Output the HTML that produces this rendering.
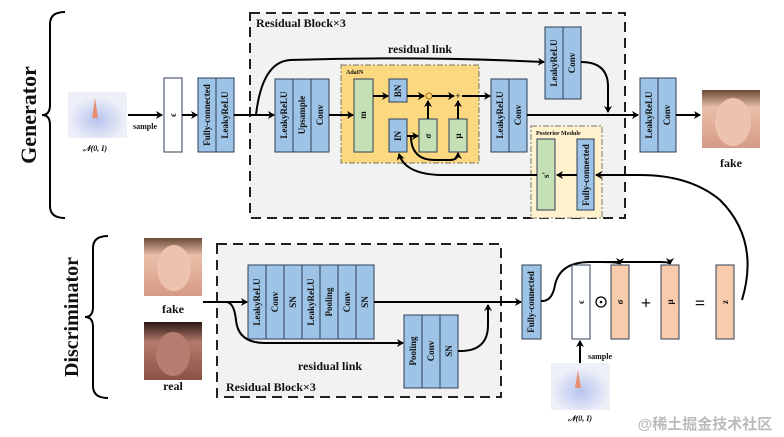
<!DOCTYPE html>
<html><head><meta charset="utf-8"><style>
html,body{margin:0;padding:0;background:#fff;width:784px;height:437px;overflow:hidden}
svg{display:block}
text{font-family:"Liberation Serif",serif;font-weight:bold;fill:#111}
.b{fill:#9dc3e6;stroke:#2f3f55;stroke-width:1}
.g{fill:#c5e0b4;stroke:#2f3f55;stroke-width:1}
.o{fill:#f8cbad;stroke:#2f3f55;stroke-width:1}
.w{fill:#fff;stroke:#2f3f55;stroke-width:1}
.l{fill:none;stroke:#000;stroke-width:2}
.c{font-size:9px}
</style></head><body>
<svg width="784" height="437" viewBox="0 0 784 437" xmlns="http://www.w3.org/2000/svg">
<defs>
<marker id="a" markerWidth="8" markerHeight="8" refX="6" refY="4" orient="auto" markerUnits="userSpaceOnUse"><path d="M0,0 L7,4 L0,8 L2,4Z" fill="#000"/></marker>
<radialGradient id="gs" cx="0.5" cy="0.6" r="0.5"><stop offset="0" stop-color="#b8c4ee"/><stop offset="1" stop-color="#eef0f8"/></radialGradient>
<linearGradient id="face" x1="0" y1="0" x2="0" y2="1"><stop offset="0" stop-color="#6b4a38"/><stop offset="0.3" stop-color="#e9bfa8"/><stop offset="1" stop-color="#d59a86"/></linearGradient>
<linearGradient id="face2" x1="0" y1="0" x2="0" y2="1"><stop offset="0" stop-color="#2a1812"/><stop offset="0.35" stop-color="#b57a6c"/><stop offset="1" stop-color="#8a5245"/></linearGradient>
</defs>

<!-- Generator bracket -->
<path d="M65,12 Q50,12 50,24 L50,105 Q50,115 42,115 Q50,115 50,125 L50,206 Q50,218 65,218" class="l"/>
<text transform="translate(36,115) rotate(-90)" text-anchor="middle" font-size="22">Generator</text>

<!-- gaussian 1 -->
<rect x="68" y="92" width="59" height="46" fill="url(#gs)"/>
<path d="M92,118 L95,98 L98,118Z" fill="#e89070"/>
<text x="95" y="151" font-size="8" font-weight="normal" text-anchor="middle" font-style="italic">𝒩(0, I)</text>
<line x1="128" y1="115" x2="162" y2="115" class="l" marker-end="url(#a)"/>
<text x="145" y="129" font-size="8" text-anchor="middle">sample</text>
<rect x="164" y="78" width="18" height="74" class="w"/>
<text transform="translate(176,115) rotate(-90)" class="c" text-anchor="middle">ϵ</text>
<line x1="182" y1="115" x2="197" y2="115" class="l" marker-end="url(#a)"/>
<rect x="198" y="78" width="18" height="74" class="b"/><rect x="216" y="78" width="18" height="74" class="b"/>
<text transform="translate(210,115) rotate(-90)" class="c" text-anchor="middle">Fully-connected</text>
<text transform="translate(228,115) rotate(-90)" class="c" text-anchor="middle">LeakyReLU</text>

<!-- G residual box -->
<rect x="250" y="13" width="375" height="205" fill="#f2f2f2" stroke="#222" stroke-width="2" stroke-dasharray="10,6"/>
<text x="256" y="27" font-size="12">Residual Block×3</text>
<line x1="234" y1="115" x2="274" y2="115" class="l" marker-end="url(#a)"/>
<path d="M256,115 Q262,62 290,60 Q420,56 544,62" class="l" marker-end="url(#a)"/>
<text x="420" y="53" font-size="12" text-anchor="middle">residual link</text>

<rect x="275" y="79" width="18" height="73" class="b"/><rect x="293" y="79" width="18" height="73" class="b"/><rect x="311" y="79" width="18" height="73" class="b"/>
<text transform="translate(287,115) rotate(-90)" class="c" text-anchor="middle">LeakyReLU</text>
<text transform="translate(305,115) rotate(-90)" class="c" text-anchor="middle">Upsample</text>
<text transform="translate(323,115) rotate(-90)" class="c" text-anchor="middle">Conv</text>

<!-- AdaIN -->
<rect x="341" y="65" width="138" height="98" fill="#fcd981" stroke="#776" stroke-width="1" stroke-dasharray="6,2,2,2"/>
<text x="346" y="74" font-size="6">AdaIN</text>
<line x1="329" y1="115" x2="353" y2="115" class="l" marker-end="url(#a)"/>
<rect x="354" y="79" width="19" height="73" class="g"/>
<text transform="translate(366,115) rotate(-90)" class="c" text-anchor="middle">m</text>
<rect x="389" y="79" width="18" height="23" class="b"/>
<text transform="translate(401,91) rotate(-90)" class="c" text-anchor="middle">BN</text>
<rect x="389" y="119" width="18" height="33" class="b"/>
<text transform="translate(401,136) rotate(-90)" class="c" text-anchor="middle">IN</text>
<rect x="419" y="119" width="18" height="33" class="g"/>
<text transform="translate(431,136) rotate(-90)" class="c" text-anchor="middle">σ</text>
<rect x="449" y="119" width="18" height="33" class="g"/>
<text transform="translate(461,136) rotate(-90)" class="c" text-anchor="middle">μ</text>
<line x1="373" y1="96" x2="388" y2="96" class="l" marker-end="url(#a)"/>
<line x1="407" y1="96" x2="424" y2="96" class="l" marker-end="url(#a)"/>
<circle cx="429" cy="96" r="3" fill="none" stroke="#a60" stroke-width="1"/>
<line x1="432" y1="96" x2="454" y2="96" class="l" marker-end="url(#a)"/>
<text x="458" y="99" font-size="9" text-anchor="middle">+</text>
<line x1="462" y1="96" x2="490" y2="96" class="l" marker-end="url(#a)"/>
<line x1="428" y1="119" x2="428" y2="101" class="l" marker-end="url(#a)"/>
<line x1="458" y1="119" x2="458" y2="101" class="l" marker-end="url(#a)"/>
<line x1="407" y1="136" x2="418" y2="136" class="l" marker-end="url(#a)"/>
<path d="M411,136 Q411,160 435,160 L450,160 Q458,160 458,153" class="l" marker-end="url(#a)"/>

<rect x="491" y="79" width="18" height="73" class="b"/><rect x="509" y="79" width="18" height="73" class="b"/>
<text transform="translate(503,115) rotate(-90)" class="c" text-anchor="middle">LeakyReLU</text>
<text transform="translate(521,115) rotate(-90)" class="c" text-anchor="middle">Conv</text>
<line x1="527" y1="115" x2="638" y2="115" class="l" marker-end="url(#a)"/>

<rect x="545" y="27" width="18" height="72" class="b"/><rect x="563" y="27" width="18" height="72" class="b"/>
<text transform="translate(557,63) rotate(-90)" class="c" text-anchor="middle">LeakyReLU</text>
<text transform="translate(575,63) rotate(-90)" class="c" text-anchor="middle">Conv</text>
<path d="M581,62 Q607,62 608,85 L608,112" class="l" marker-end="url(#a)"/>

<!-- Posterior -->
<rect x="531" y="126" width="71" height="92" fill="#fff2cc" stroke="#776" stroke-width="1" stroke-dasharray="6,2,2,2"/>
<text x="536" y="135" font-size="6">Posterior Module</text>
<rect x="537" y="139" width="18" height="71" class="g"/>
<text transform="translate(549,175) rotate(-90)" class="c" text-anchor="middle">s'</text>
<rect x="577" y="139" width="17" height="71" class="b"/>
<text transform="translate(589,175) rotate(-90)" class="c" text-anchor="middle">Fully-connected</text>
<line x1="577" y1="175" x2="557" y2="175" class="l" marker-end="url(#a)"/>
<path d="M537,175 L440,175 Q405,174 399,154" class="l" marker-end="url(#a)"/>
<path d="M742,300 Q760,240 720,200 Q690,175 640,175 L596,175" class="l" marker-end="url(#a)"/>

<rect x="640" y="78" width="18" height="74" class="b"/><rect x="658" y="78" width="18" height="74" class="b"/>
<text transform="translate(652,115) rotate(-90)" class="c" text-anchor="middle">LeakyReLU</text>
<text transform="translate(670,115) rotate(-90)" class="c" text-anchor="middle">Conv</text>
<line x1="676" y1="115" x2="700" y2="115" class="l" marker-end="url(#a)"/>
<rect x="702" y="90" width="58" height="58" fill="url(#face)"/>
<ellipse cx="733" cy="122" rx="18" ry="24" fill="#eec3ad"/>
<text x="731" y="167" font-size="12" text-anchor="middle">fake</text>

<!-- Discriminator -->
<path d="M108,236 Q93,236 93,248 L93,307 Q93,317 85,317 Q93,317 93,327 L93,386 Q93,398 108,398" class="l"/>
<text transform="translate(78,317) rotate(-90)" text-anchor="middle" font-size="20">Discriminator</text>
<rect x="144" y="238" width="58" height="58" fill="url(#face)"/>
<ellipse cx="174" cy="268" rx="17" ry="23" fill="#eec3ad"/>
<text x="173" y="313" font-size="12" text-anchor="middle">fake</text>
<rect x="144" y="322" width="58" height="58" fill="url(#face2)"/>
<ellipse cx="173" cy="354" rx="17" ry="22" fill="#b77d70"/>
<text x="173" y="390" font-size="12" text-anchor="middle">real</text>

<rect x="217" y="244" width="284" height="153" fill="#f2f2f2" stroke="#222" stroke-width="2" stroke-dasharray="10,6"/>
<text x="226" y="391" font-size="12">Residual Block×3</text>
<line x1="203" y1="302" x2="247" y2="302" class="l" marker-end="url(#a)"/>
<g>
<rect x="248" y="265" width="18" height="74" class="b"/><rect x="266" y="265" width="18" height="74" class="b"/><rect x="284" y="265" width="18" height="74" class="b"/><rect x="302" y="265" width="18" height="74" class="b"/><rect x="320" y="265" width="18" height="74" class="b"/><rect x="338" y="265" width="18" height="74" class="b"/><rect x="356" y="265" width="18" height="74" class="b"/>
</g>
<text transform="translate(260,302) rotate(-90)" class="c" text-anchor="middle">LeakyReLU</text>
<text transform="translate(278,302) rotate(-90)" class="c" text-anchor="middle">Conv</text>
<text transform="translate(296,302) rotate(-90)" class="c" text-anchor="middle">SN</text>
<text transform="translate(314,302) rotate(-90)" class="c" text-anchor="middle">LeakyReLU</text>
<text transform="translate(332,302) rotate(-90)" class="c" text-anchor="middle">Pooling</text>
<text transform="translate(350,302) rotate(-90)" class="c" text-anchor="middle">Conv</text>
<text transform="translate(368,302) rotate(-90)" class="c" text-anchor="middle">SN</text>
<path d="M226,302 Q234,302 236,320 Q238,343 265,343 L403,343" class="l" marker-end="url(#a)"/>
<text x="330" y="370" font-size="12" text-anchor="middle">residual link</text>
<rect x="404" y="315" width="18" height="73" class="b"/><rect x="422" y="315" width="18" height="73" class="b"/><rect x="440" y="315" width="18" height="73" class="b"/>
<text transform="translate(416,351) rotate(-90)" class="c" text-anchor="middle">Pooling</text>
<text transform="translate(434,351) rotate(-90)" class="c" text-anchor="middle">Conv</text>
<text transform="translate(452,351) rotate(-90)" class="c" text-anchor="middle">SN</text>
<path d="M458,351 Q488,352 488,325 L488,305" class="l" marker-end="url(#a)"/>
<line x1="374" y1="302" x2="521" y2="302" class="l" marker-end="url(#a)"/>

<rect x="522" y="265" width="19" height="74" class="b"/>
<text transform="translate(534,302) rotate(-90)" class="c" text-anchor="middle">Fully-connected</text>
<path d="M541,301 Q552,302 555,285 Q560,262 590,262 L660,262 Q670,262 670,264" class="l" marker-end="url(#a)"/>
<path d="M600,262 Q620,262 620,264" class="l" marker-end="url(#a)"/>
<rect x="572" y="265" width="18" height="74" class="w"/>
<text transform="translate(584,302) rotate(-90)" class="c" text-anchor="middle">ϵ</text>
<circle cx="601" cy="302" r="5" fill="none" stroke="#000" stroke-width="1.3"/><circle cx="601" cy="302" r="1.3" fill="#000"/>
<rect x="611" y="265" width="18" height="74" class="o"/>
<text transform="translate(623,302) rotate(-90)" class="c" text-anchor="middle">σ</text>
<text x="646" y="309" font-size="18" text-anchor="middle">+</text>
<rect x="661" y="265" width="18" height="74" class="o"/>
<text transform="translate(673,302) rotate(-90)" class="c" text-anchor="middle">μ</text>
<text x="700" y="309" font-size="18" text-anchor="middle">=</text>
<rect x="716" y="265" width="18" height="74" class="o"/>
<text transform="translate(728,302) rotate(-90)" class="c" text-anchor="middle">z</text>
<line x1="580" y1="365" x2="580" y2="341" class="l" marker-end="url(#a)"/>
<text x="588" y="359" font-size="8">sample</text>
<rect x="551" y="363" width="59" height="47" fill="url(#gs)"/>
<path d="M575,388 L578,370 L581,388Z" fill="#e89070"/>
<text x="580" y="421" font-size="8" font-weight="normal" text-anchor="middle" font-style="italic">𝒩(0, I)</text>
<text x="705" y="429" font-size="15" font-weight="normal" text-anchor="middle" style="font-family:'Liberation Sans','Noto Sans CJK SC',sans-serif;fill:#bbb">@稀土掘金技术社区</text>
</svg>
</body></html>
